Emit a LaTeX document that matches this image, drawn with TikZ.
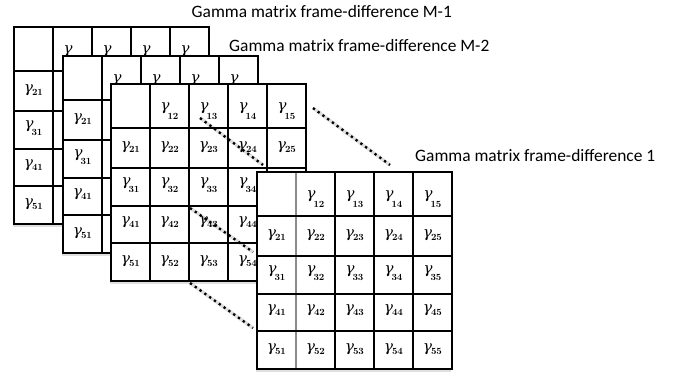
\documentclass[tikz,border=0pt]{standalone}
\usepackage{fontspec}
\newfontfamily\calibri{Carlito}
\newfontfamily\gfont{DejaVu Serif}
\usetikzlibrary{shadows}
\newcommand{\gam}{{\gfont\itshape γ}}
\newcommand{\gsub}[3]{\gam\kern#1\raisebox{#2}{\fontsize{9.5}{10}\selectfont\bfseries #3}}
\tikzset{
  gridln/.style={line width=1.5pt, black},
  grayln/.style={line width=1.1pt, black!45},
  lab/.style={inner sep=0pt, anchor=base, font=\fontsize{15}{17}\selectfont},
  title/.style={inner sep=0pt, anchor=base west, font=\calibri\fontsize{17.4}{20}\selectfont},
  dotln/.style={line width=2.3pt, dash pattern=on 2.3pt off 3.6pt, black},
  dotshadow/.style={line width=3.5pt, black, opacity=0.12, shift={(1,2)}},
}
% one labelled cell: #1 matrix name, #2 row, #3 column
\newcommand{\gcell}[3]{%
  \pgfmathsetmacro\gcx{19.5+39*(#3-1)}%
  \ifcase#2\relax\or\def\gby{27}\def\grs{-9pt}\def\gkk{-2pt}%
  \or\def\gby{66}\def\grs{-3pt}\def\gkk{-1pt}%
  \or\def\gby{102}\def\grs{-6.5pt}\def\gkk{-2pt}%
  \or\def\gby{141}\def\grs{-3pt}\def\gkk{-1pt}%
  \or\def\gby{180}\def\grs{-3pt}\def\gkk{-1pt}\fi
  \node[lab] (#1-#2#3) at (\gcx,\gby) {\gsub{\gkk}{\grs}{#2#3}};}
% #1 name, #2 x, #3 y, #4 style of first column divider, #5 macro with visible cells r/c
\newcommand{\drawmat}[5]{%
\begin{scope}[shift={(#2,#3)}]
  \fill[white, drop shadow={shadow xshift=-1pt, shadow yshift=-3pt, opacity=0.25}] (0,0) rectangle (195,197);
  \draw[#4] (39,0) -- (39,197);
  \foreach \xx in {78,117,156} \draw[gridln] (\xx,0) -- (\xx,197);
  \foreach \yy in {44,84,122,159} \draw[gridln] (0,\yy) -- (195,\yy);
  \draw[gridln] (0,0) rectangle (195,197);
  \foreach \gr/\gc in #5 {\gcell{#1}{\gr}{\gc}}
\end{scope}}
\def\edgecells{1/2,1/3,1/4,1/5,2/1,3/1,4/1,5/1}
\def\allbutright{1/2,1/3,1/4,1/5,2/1,2/2,2/3,2/4,2/5,3/1,3/2,3/3,3/4,4/1,4/2,4/3,4/4,5/1,5/2,5/3,5/4}
\def\allcells{1/2,1/3,1/4,1/5,2/1,2/2,2/3,2/4,2/5,3/1,3/2,3/3,3/4,3/5,4/1,4/2,4/3,4/4,4/5,5/1,5/2,5/3,5/4,5/5}
\begin{document}
\begin{tikzpicture}[x=1pt,y=-1pt]
\useasboundingbox[fill=white] (0,0) rectangle (673,374);
\node[title] (t1) at (191.5,18) {Gamma matrix frame-difference M-1};
\node[title] (t2) at (229,52) {Gamma matrix frame-difference M-2};
\node[title] (t3) at (415,162) {Gamma matrix frame-difference 1};
\drawmat{ma}{14}{27}{gridln}{\edgecells}
\drawmat{mb}{63}{56}{gridln}{\edgecells}
\drawmat{mc}{111}{84}{gridln}{\allbutright}
\coordinate (d1s) at (313,108); \coordinate (d1e) at (390,165);
\coordinate (d2s) at (200,118); \coordinate (d2e) at (263,165);
\coordinate (d3s) at (190,208); \coordinate (d3e) at (253,252);
\coordinate (d4s) at (190,283); \coordinate (d4e) at (253,328);
\foreach \i in {1,2,3,4} \draw[dotshadow] (d\i s) -- (d\i e);
\foreach \i in {1,2,3,4} \draw[dotln] (d\i s) -- (d\i e);
\drawmat{md}{257}{172}{grayln}{\allcells}
\end{tikzpicture}
\end{document}
